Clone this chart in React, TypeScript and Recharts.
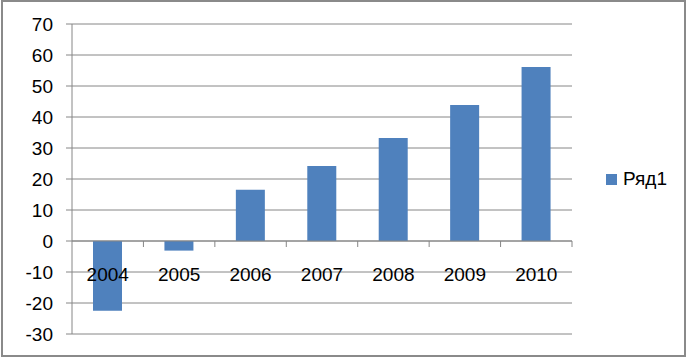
import React from "react";
import { BarChart, Bar, XAxis, YAxis, CartesianGrid, ReferenceLine, Legend } from "recharts";

const years = ["2004", "2005", "2006", "2007", "2008", "2009", "2010"];
const values = [-22.5, -3.1, 16.5, 24.2, 33.2, 43.9, 56.1];
const yTicks = [-30, -20, -10, 0, 10, 20, 30, 40, 50, 60, 70];
const seriesName = "Ряд1";

const data = years.map((y, i) => ({ year: y, v: values[i] }));

const W = 687;
const H = 357;
const M_TOP = 24;
const Y_AXIS_W = 72;
const X_AXIS_H = 23;
const RIGHT = 115;
const PLOT_H = H - M_TOP - X_AXIS_H;
const PLOT_W = W - Y_AXIS_W - RIGHT;
const Y_MIN = -30;
const Y_MAX = 70;
const GRID = "#868686";
const BAR = "#4F81BD";
const FONT = "'Liberation Sans', Arial, sans-serif";
const LEGEND_W = 80;

const CatTick = (props: any) => {
  const { x, y, payload } = props;
  const zeroY = y - (PLOT_H * (0 - Y_MIN)) / (Y_MAX - Y_MIN);
  const band = PLOT_W / years.length;
  return (
    <g>
      <line x1={x + band / 2} x2={x + band / 2} y1={zeroY} y2={zeroY + 6} stroke={GRID} strokeWidth={1} />
      <text x={x} y={zeroY + 33} dy="0.355em" textAnchor="middle" fill="#000" fontSize={19} fontFamily={FONT}>
        {payload.value}
      </text>
    </g>
  );
};

const LegendContent = () => (
  <div style={{ width: LEGEND_W, display: "flex", alignItems: "center", fontFamily: FONT, fontSize: 19, color: "#000" }}>
    <span style={{ display: "inline-block", width: 11, height: 11, background: BAR, marginRight: 6 }} />
    <span>{seriesName}</span>
  </div>
);

export default function App() {
  return (
    <div style={{ position: "absolute", left: 0, top: 0, width: W, height: H, background: "#fff" }}>
      <BarChart
        width={W}
        height={H}
        data={data}
        margin={{ top: M_TOP, right: RIGHT - LEGEND_W, bottom: 0, left: 0 }}
        barSize={29}
      >
        <CartesianGrid vertical={false} stroke={GRID} strokeWidth={1} />
        <XAxis
          dataKey="year"
          height={X_AXIS_H}
          axisLine={false}
          tickLine={false}
          tickSize={0}
          tickMargin={0}
          interval={0}
          tick={<CatTick />}
        />
        <YAxis
          width={Y_AXIS_W}
          domain={[Y_MIN, Y_MAX]}
          ticks={yTicks}
          interval={0}
          axisLine={{ stroke: GRID }}
          tickLine={{ stroke: GRID }}
          tickSize={6}
          tickMargin={13}
          tick={{ fill: "#000", fontSize: 19, fontFamily: FONT }}
        />
        <Bar dataKey="v" name={seriesName} fill={BAR} isAnimationActive={false} />
        <ReferenceLine y={0} stroke={GRID} strokeWidth={1} />
        <Legend
          layout="vertical"
          align="right"
          verticalAlign="middle"
          content={<LegendContent />}
          wrapperStyle={{ left: 606, top: 168, width: LEGEND_W }}
        />
      </BarChart>
      <div
        style={{
          position: "absolute",
          left: 1,
          top: 0,
          width: 685,
          height: 357,
          boxSizing: "border-box",
          border: "2px solid #8a8a8a",
          pointerEvents: "none",
        }}
      />
    </div>
  );
}
